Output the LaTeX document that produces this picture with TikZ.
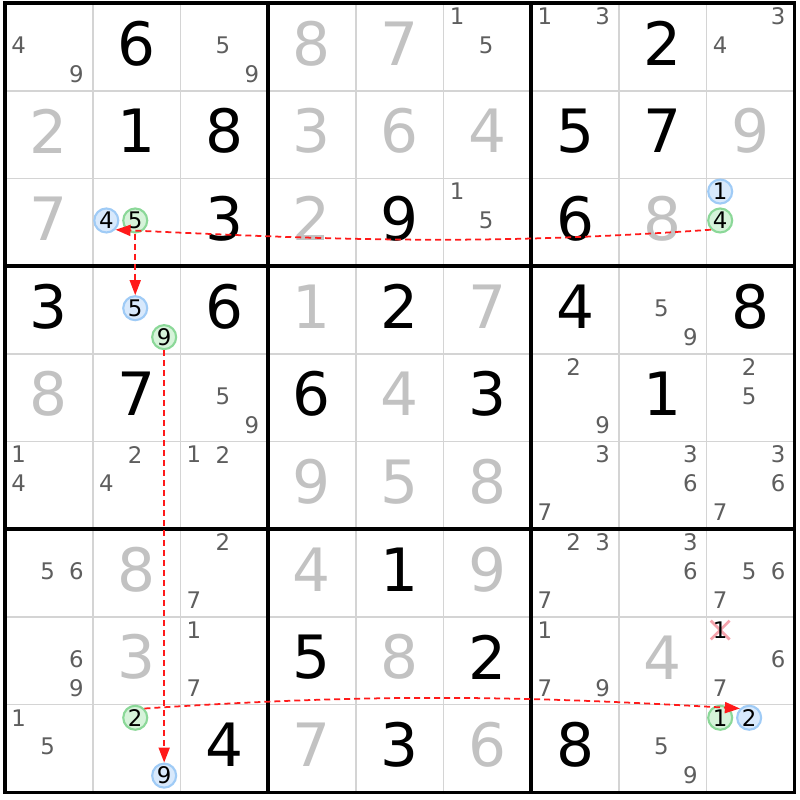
\documentclass[tikz,border=0pt]{standalone}
\usepackage{fontspec}
\setmainfont{DejaVu Sans}
\usepackage{tikz}
\usetikzlibrary{arrows.meta, positioning, shapes.misc}
\definecolor{gridgrey}{HTML}{D4D4D4}
\definecolor{solvedgrey}{HTML}{C2C2C2}
\definecolor{candgrey}{HTML}{5E5E5E}
\definecolor{linkred}{HTML}{FF1A1A}
\definecolor{onfill}{HTML}{D8E9FC}
\definecolor{ondraw}{HTML}{9FCBF6}
\definecolor{offfill}{HTML}{D6F3DA}
\definecolor{offdraw}{HTML}{8BD898}
\definecolor{elimpink}{HTML}{F5A3AC}

\newcommand{\given}[3]{\node[given] (r#2c#1) at (#1+0.5,#2+0.46) {#3};}
\newcommand{\solved}[3]{\node[solved] (r#2c#1) at (#1+0.5,#2+0.46) {#3};}
\newcommand{\cands}[3]{\foreach \n in {#3} {\node[cand] (r#2c#1d\n) at ({#1+0.155+0.33*mod(\n-1,3)},{#2+0.15+0.33*floor((\n-1)/3)}) {\n};}}
\newcommand{\linked}[4]{\node[#1] (r#3c#2d#4) at ({#2+0.155+0.33*mod(#4-1,3)},{#3+0.15+0.33*floor((#4-1)/3)}) {#4};}

\begin{document}
\begin{tikzpicture}[
  x=8.77mm, y=-8.77mm,
  thinline/.style={draw=gridgrey, line width=0.5pt},
  boxline/.style={draw=black, line width=1pt},
  given/.style={font=\fontsize{17}{17}\selectfont, text=black, inner sep=0pt},
  solved/.style={given, text=solvedgrey},
  cand/.style={font=\fontsize{6.5}{7}\selectfont, text=candgrey, inner sep=0pt},
  onmark/.style={circle, draw=ondraw, fill=onfill, line width=0.6pt, minimum size=2.4mm,
    inner sep=0pt, font=\fontsize{6.5}{7}\selectfont, text=black},
  offmark/.style={onmark, draw=offdraw, fill=offfill},
  elim/.style={cross out, draw=elimpink, line width=0.8pt, minimum size=1.6mm, inner sep=0pt},
  link/.style={-{Triangle[length=1.5mm,width=1.1mm]}, draw=linkred,
    line width=0.5pt, dash pattern=on 0.6mm off 0.4mm}
]
  \useasboundingbox (-0.057,-0.034) rectangle (9.065,9.088);
  \fill[white] (-0.057,-0.034) rectangle (9.065,9.088);

  \foreach \i in {1,2,4,5,7,8} {
    \draw[thinline] (\i,0) -- (\i,9);
    \draw[thinline] (0,\i) -- (9,\i);
  }
  \foreach \i in {3,6} {
    \draw[boxline] (\i,0) -- (\i,9);
    \draw[boxline] (0,\i) -- (9,\i);
  }
  \draw[boxline] (0,0) rectangle (9,9);

  % givens
  \given{1}{0}{6} \given{7}{0}{2}
  \given{1}{1}{1} \given{2}{1}{8} \given{6}{1}{5} \given{7}{1}{7}
  \given{2}{2}{3} \given{4}{2}{9} \given{6}{2}{6}
  \given{0}{3}{3} \given{2}{3}{6} \given{4}{3}{2} \given{6}{3}{4} \given{8}{3}{8}
  \given{1}{4}{7} \given{3}{4}{6} \given{5}{4}{3} \given{7}{4}{1}
  \given{4}{6}{1}
  \given{3}{7}{5} \given{5}{7}{2}
  \given{2}{8}{4} \given{4}{8}{3} \given{6}{8}{8}

  % solved
  \solved{3}{0}{8} \solved{4}{0}{7}
  \solved{0}{1}{2} \solved{3}{1}{3} \solved{4}{1}{6} \solved{5}{1}{4} \solved{8}{1}{9}
  \solved{0}{2}{7} \solved{3}{2}{2} \solved{7}{2}{8}
  \solved{3}{3}{1} \solved{5}{3}{7}
  \solved{0}{4}{8} \solved{4}{4}{4}
  \solved{3}{5}{9} \solved{4}{5}{5} \solved{5}{5}{8}
  \solved{1}{6}{8} \solved{3}{6}{4} \solved{5}{6}{9}
  \solved{1}{7}{3} \solved{4}{7}{8} \solved{7}{7}{4}
  \solved{3}{8}{7} \solved{5}{8}{6}

  % candidates
  \cands{0}{0}{4,9} \cands{2}{0}{5,9} \cands{5}{0}{1,5} \cands{6}{0}{1,3} \cands{8}{0}{3,4}
  \cands{5}{2}{1,5}
  \cands{7}{3}{5,9}
  \cands{2}{4}{5,9} \cands{6}{4}{2,9} \cands{8}{4}{2,5}
  \cands{0}{5}{1,4} \cands{1}{5}{2,4} \cands{2}{5}{1,2} \cands{6}{5}{3,7} \cands{7}{5}{3,6} \cands{8}{5}{3,6,7}
  \cands{0}{6}{5,6} \cands{2}{6}{2,7} \cands{6}{6}{2,3,7} \cands{7}{6}{3,6} \cands{8}{6}{5,6,7}
  \cands{0}{7}{6,9} \cands{2}{7}{1,7} \cands{6}{7}{1,7,9} \cands{8}{7}{6,7}
  \cands{0}{8}{1,5} \cands{7}{8}{5,9}

  \node[elim] (r7c8x) at (8.155,7.15) {};
  \node[cand, text=black] (r7c8d1) at (8.155,7.15) {1};

  % chain
  \linked{onmark}{8}{2}{1} \linked{offmark}{8}{2}{4}
  \linked{onmark}{1}{2}{4} \linked{offmark}{1}{2}{5}
  \linked{onmark}{1}{3}{5} \linked{offmark}{1}{3}{9}
  \linked{offmark}{1}{8}{2} \linked{onmark}{1}{8}{9}
  \linked{offmark}{8}{8}{1} \linked{onmark}{8}{8}{2}

  \draw[link] (r2c8d4.south west) .. controls +(-2.6,0.18) and +(2.6,0.12) .. (r2c1d4.south east);
  \draw[link] (r2c1d5.south) -- (r3c1d5.north);
  \draw[link] (r3c1d9.south) -- (r8c1d9.north);
  \draw[link] (r8c1d2.north east) .. controls +(2.6,-0.17) and +(-2.6,-0.15) .. (r8c8d2.north west);
\end{tikzpicture}
\end{document}
